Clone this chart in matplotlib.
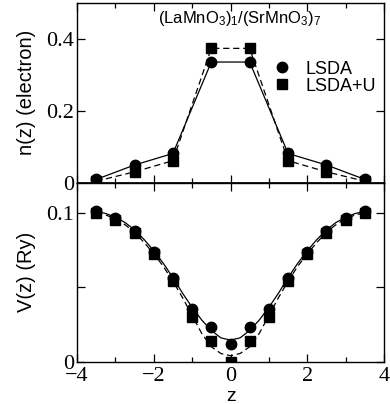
import matplotlib
matplotlib.use("Agg")
import matplotlib.pyplot as plt
from matplotlib.ticker import FixedLocator, FuncFormatter

# ---- data ----
z_n = [-3.5, -2.5, -1.5, -0.5, 0.5, 1.5, 2.5, 3.5]
n_lsda = [0.010, 0.050, 0.082, 0.336, 0.336, 0.082, 0.050, 0.010]
n_lsdau = [0.005, 0.031, 0.062, 0.374, 0.374, 0.062, 0.031, 0.005]

z_v = [-3.5, -3.0, -2.5, -2.0, -1.5, -1.0, -0.5, 0.0, 0.5, 1.0, 1.5, 2.0, 2.5, 3.0, 3.5]
v_lsda = [0.101, 0.0966, 0.0881, 0.0736, 0.0562, 0.0353, 0.0234, 0.0116,
          0.0234, 0.0353, 0.0562, 0.0736, 0.0881, 0.0966, 0.101]
v_lsdau = [0.0997, 0.0953, 0.0866, 0.0721, 0.0542, 0.0297, 0.0139, 0.0,
           0.0139, 0.0297, 0.0542, 0.0721, 0.0866, 0.0953, 0.0997]

# smooth fit curves
z_fit = [-3.5, -3.25, -3.0, -2.75, -2.5, -2.25, -2.0, -1.75, -1.5, -1.25, -1.0, -0.75,
         -0.5, -0.25, 0.0, 0.25, 0.5, 0.75, 1.0, 1.25, 1.5, 1.75, 2.0, 2.25, 2.5,
         2.75, 3.0, 3.25, 3.5]
fit_lsda = [0.101, 0.0995, 0.097, 0.0935, 0.0885, 0.082, 0.0745, 0.066, 0.0565, 0.046,
            0.0365, 0.028, 0.021, 0.016, 0.0145, 0.016, 0.021, 0.028, 0.0365, 0.046,
            0.0565, 0.066, 0.0745, 0.082, 0.0885, 0.0935, 0.097, 0.0995, 0.101]
fit_lsdau = [0.100, 0.0985, 0.096, 0.092, 0.087, 0.080, 0.0725, 0.064, 0.054, 0.043,
             0.031, 0.019, 0.010, 0.0055, 0.004, 0.0055, 0.010, 0.019, 0.031, 0.043,
             0.054, 0.064, 0.0725, 0.080, 0.087, 0.092, 0.096, 0.0985, 0.100]

title = "(LaMnO$_3$)$_1$/(SrMnO$_3$)$_7$"
series_labels = ["LSDA", "LSDA+U"]

# ---- style ----
plt.rcParams['mathtext.default'] = 'regular'
sans = 'Liberation Sans'
serif = 'Liberation Serif'

W, H = 390, 404
fig = plt.figure(figsize=(W / 100, H / 100), dpi=100)

left = 77 / W
width = 307 / W
ax1 = fig.add_axes([left, 1 - 183 / H, width, (183 - 3) / H])
ax2 = fig.add_axes([left, 1 - 361.7 / H, width, (361.7 - 183) / H])

lw = 0.9
dash = (0, (5, 3))
ms_c = 7.5
ms_s = 6.5

# top panel
ax1.plot(z_n, n_lsda, color='black', lw=lw, ls='-', marker='o', ms=ms_c, label=series_labels[0])
ax1.plot(z_n, n_lsdau, color='black', lw=lw, ls=dash, marker='s', ms=ms_s, label=series_labels[1])
ax1.axhline(0, color='black', lw=1.2)
ax1.set_xlim(-4, 4)
ax1.set_ylim(0, 0.5)
ax1.yaxis.set_major_locator(FixedLocator([0, 0.2, 0.4]))
ax1.yaxis.set_major_formatter(FuncFormatter(lambda v, p: '0' if abs(v) < 1e-9 else f'{v:.1f}'))

# bottom panel
ax2.plot(z_fit, fit_lsda, color='black', lw=lw, ls='-')
ax2.plot(z_fit, fit_lsdau, color='black', lw=lw, ls=dash)
ax2.plot(z_v, v_lsda, color='black', ls='none', marker='o', ms=ms_c)
ax2.plot(z_v, v_lsdau, color='black', ls='none', marker='s', ms=ms_s)
ax2.set_xlim(-4, 4)
ax2.set_ylim(0, 0.12)
ax2.yaxis.set_major_locator(FixedLocator([0, 0.05, 0.1]))
ax2.yaxis.set_major_formatter(FuncFormatter(lambda v, p: '0' if abs(v) < 1e-9 else ('0.1' if abs(v - 0.1) < 1e-9 else '')))

for ax in (ax1, ax2):
    ax.xaxis.set_major_locator(FixedLocator([-4, -2, 0, 2, 4]))
    ax.xaxis.set_minor_locator(FixedLocator([-3, -1, 1, 3]))
    ax.tick_params(which='both', direction='in', top=True, right=True, width=0.9)
    ax.tick_params(which='major', length=5.5, labelsize=16)
    ax.tick_params(which='minor', length=3.5)
    ax.tick_params(axis='y', pad=2)
    ax.tick_params(axis='x', pad=3.5)
    for lab in ax.get_xticklabels() + ax.get_yticklabels():
        lab.set_fontfamily(serif)
    for sp in ax.spines.values():
        sp.set_linewidth(1.0)

ax1.tick_params(labelbottom=False)

# legend
leg = ax1.legend(loc='upper left', bbox_to_anchor=(0.615, 0.72), frameon=False,
                 prop={'family': sans, 'size': 13}, handlelength=1.0, handletextpad=0.8,
                 labelspacing=0.0, borderaxespad=0)
for h in leg.legend_handles:
    h.set_linestyle('none')

# title inside top panel
fig.text(240 / W, 1 - 18 / H, title, ha='center', va='center', fontsize=12, family=sans)

# axis labels
fig.text(27 / W, 1 - 92 / H, 'n(z) (electron)', rotation=90, ha='center', va='center',
         fontsize=14.5, family=sans)
fig.text(27 / W, 1 - 272 / H, 'V(z) (Ry)', rotation=90, ha='center', va='center',
         fontsize=14.5, family=sans)
fig.text(231 / W, 1 - 401 / H, 'z', ha='center', va='baseline', fontsize=14, family=sans)

fig.savefig('out.png', dpi=100)
